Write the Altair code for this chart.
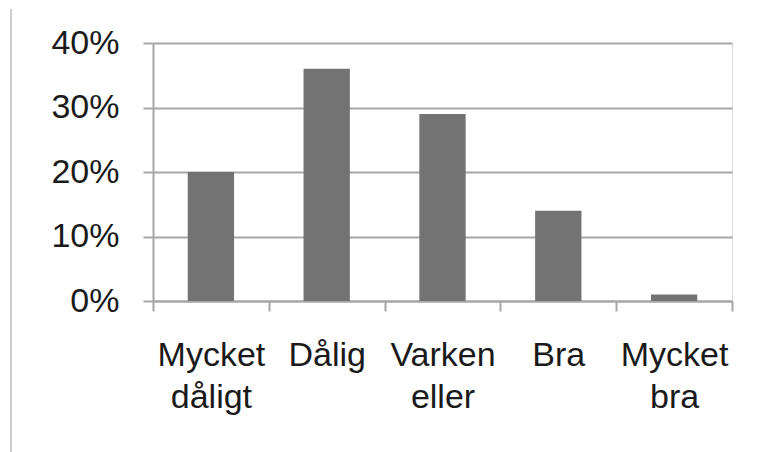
import altair as alt
import pandas as pd

# Survey answers and their share of respondents
categories = ["Mycket dåligt", "Dålig", "Varken eller", "Bra", "Mycket bra"]
shares = [0.20, 0.36, 0.29, 0.14, 0.01]
y_ticks = [0.0, 0.1, 0.2, 0.3, 0.4]

df = pd.DataFrame({"svar": categories, "andel": shares})

FONT = "Liberation Sans"
GRID = "#a6a6a6"

x_enc = alt.X(
    "svar:N",
    sort=categories,
    title=None,
    scale=alt.Scale(paddingInner=0, paddingOuter=0),
    axis=alt.Axis(
        labelAngle=0,
        labelExpr="split(datum.label, ' ')",
        labelFont=FONT,
        labelFontSize=34,
        labelColor="#1a1a1a",
        labelLineHeight=42,
        labelPadding=27,
        labelBaseline="top",
        tickBand="extent",
        tickSize=10,
        tickWidth=2,
        tickColor=GRID,
        domainColor=GRID,
        domainWidth=2,
        grid=False,
    ),
)

bars = alt.Chart(df).mark_bar(color="#737373", width={"band": 0.4}).encode(
    x=x_enc,
    y=alt.Y(
        "andel:Q",
        title=None,
        scale=alt.Scale(domain=[0, 0.4], nice=False),
        axis=alt.Axis(
            values=y_ticks,
            format=".0%",
            labelFont=FONT,
            labelFontSize=34,
            labelColor="#1a1a1a",
            labelPadding=24,
            tickSize=10,
            tickWidth=2,
            tickColor=GRID,
            domainColor=GRID,
            domainWidth=2,
            gridColor=GRID,
            gridWidth=2,
            gridOpacity=1,
        ),
    ),
)

# thin page border running down the left edge
border = alt.Chart(df).mark_rule(color="#cccccc", strokeWidth=2).encode(
    x=alt.value(-142), y=alt.value(-34), y2=alt.value(409)
)

chart = (
    alt.layer(border, bars)
    .properties(
        width=579,
        height=258,
        autosize=alt.AutoSizeParams(type="none"),
        padding={"left": 153, "top": 43, "right": 27, "bottom": 151},
    )
    .configure_view(stroke=None)
    .configure(background="white")
)

chart.save("out.html", embed_options={"renderer": "svg", "actions": False})
